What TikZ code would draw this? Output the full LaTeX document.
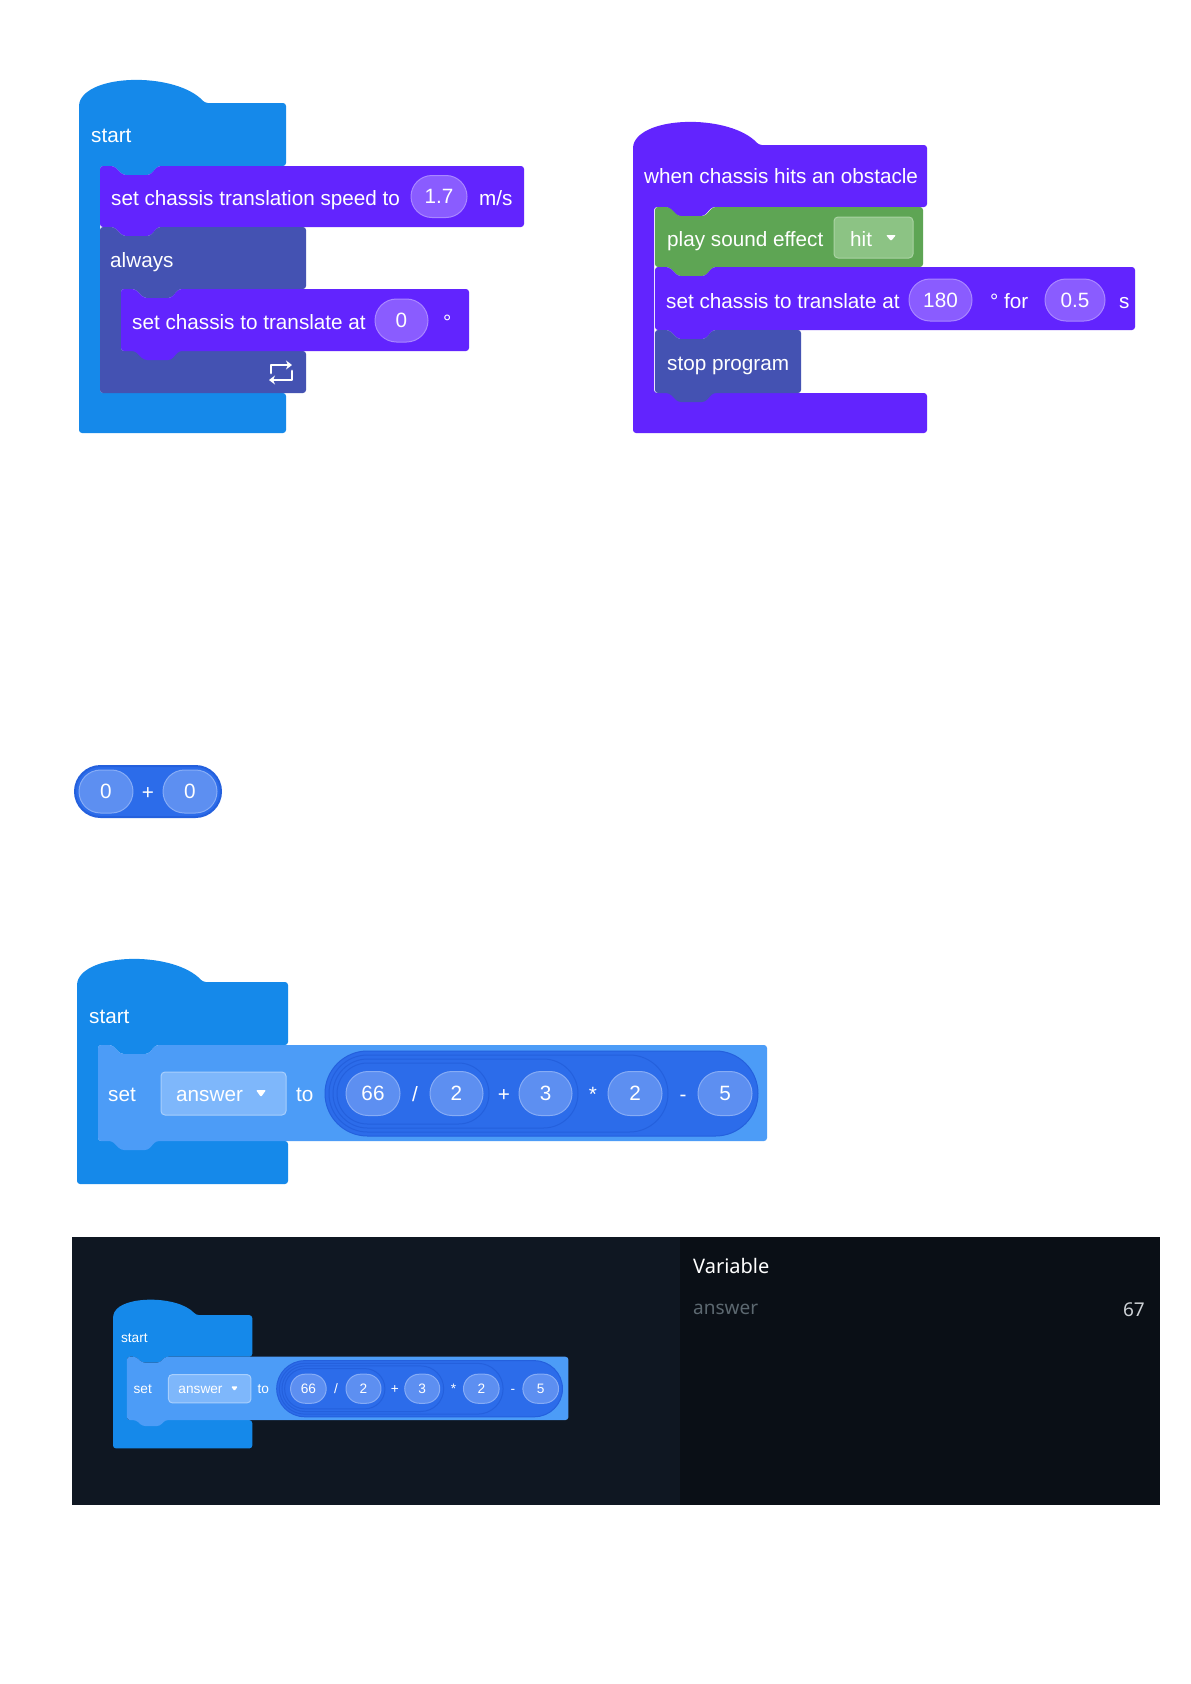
\documentclass[tikz,border=0pt]{standalone}
\usepackage{fontspec}
\setmainfont{Liberation Sans}
\newfontfamily\panelfont{Noto Sans}
\usetikzlibrary{shapes.misc,arrows.meta}
\definecolor{startblue}{HTML}{1589EA}
\definecolor{chpurple}{HTML}{6224FE}
\definecolor{ctrlslate}{HTML}{4452B2}
\definecolor{soundgreen}{HTML}{5EA554}
\definecolor{varblue}{HTML}{4C9CF7}
\definecolor{pillblue}{HTML}{2C6CEA}
\definecolor{pilledge}{HTML}{2460DD}
\definecolor{ovalpurple}{HTML}{8A5CFF}
\definecolor{ovalpurpleln}{HTML}{A987FF}
\definecolor{ovalblue}{HTML}{5D8FF1}
\definecolor{ovalblueln}{HTML}{86ACF6}
\definecolor{ddgreen}{HTML}{8CC384}
\definecolor{ddgreenln}{HTML}{AAD3A3}
\definecolor{ddblue}{HTML}{7EB7FB}
\definecolor{ddblueln}{HTML}{A8CFFD}
\definecolor{panelL}{HTML}{0F1722}
\definecolor{panelR}{HTML}{0A0F16}
\definecolor{dimgray}{HTML}{5C6870}
\definecolor{valgray}{HTML}{CDD1D5}
\newcommand{\blockfont}{\fontsize{20.7}{24}\selectfont}
% plain statement block: style, x1, y1, x2, y2
\newcommand{\stackblk}[5]{\fill[#1] (#2,#3)--(#2+14,#3)--(#2+23,#3+9)--(#2+50,#3+9)--(#2+58,#3)--(#4,#3)--(#4,#5)--(#2+58,#5)--(#2+50,#5+9)--(#2+23,#5+9)--(#2+14,#5)--(#2,#5)--cycle;}
% hat block with a mouth: style, x1, ytop, x2, mouth top, mouth bottom, ybottom
\newcommand{\hatcblk}[7]{\fill[#1] (#2,#3) .. controls (#2+14,#3-30) and (#2+98,#3-30) .. (#2+126,#3)--(#4,#3)--(#4,#5)--(#2+79,#5)--(#2+71,#5+9)--(#2+44,#5+9)--(#2+35,#5)--(#2+21,#5)--(#2+21,#6)--(#4,#6)--(#4,#7)--(#2,#7)--cycle;}
\newcommand{\notchcblk}[7]{\fill[#1] (#2,#3)--(#2+14,#3)--(#2+23,#3+9)--(#2+50,#3+9)--(#2+58,#3)--(#4,#3)--(#4,#5)--(#2+79,#5)--(#2+71,#5+9)--(#2+44,#5+9)--(#2+35,#5)--(#2+21,#5)--(#2+21,#6)--(#4,#6)--(#4,#7)--(#2,#7)--cycle;}
% set answer to ((66/2+3)*2-5), #1 prefixes the node names
\newcommand{\answerblk}[1]{%
	\hatcblk{startblue,blk}{77}{982}{288}{1045}{1141}{1184}
	\node[blocktxt] (#1start) at (89,1023) {start};
	\stackblk{varblue,blk}{98}{1045}{767}{1141}
	\node[blocktxt] (#1set) at (108,1101) {set};
	\node[ddbox,fill=ddblue,draw=ddblueln,minimum width=125,minimum height=43] (#1dd) at (223.5,1093.5) {};
	\node[blocktxt] (#1var) at (176,1101) {answer};
	\fill[white,rounded corners=1] (256,1090)--(266,1090)--(261,1097)--cycle;
	\node[blocktxt] (#1to) at (296,1101) {to};
	\node[pill,minimum width=433,minimum height=85] (#1p4) at (541.5,1093.5) {};
	\node[pill,minimum width=339,minimum height=77] (#1p3) at (498.5,1093.5) {};
	\node[pill,minimum width=245,minimum height=69] (#1p2) at (455.5,1093.5) {};
	\node[pill,minimum width=152,minimum height=61] (#1p1) at (413,1093.5) {};
	\node[ovalb,minimum width=54] (#1n1) at (373,1093.5) {66};
	\node[optxt] (#1o1) at (415,1101) {/};
	\node[ovalb,minimum width=53] (#1n2) at (456.5,1093.5) {2};
	\node[optxt] (#1o2) at (504,1101) {+};
	\node[ovalb,minimum width=53] (#1n3) at (545.5,1093.5) {3};
	\node[optxt] (#1o3) at (593,1101) {*};
	\node[ovalb,minimum width=54] (#1n4) at (635,1093.5) {2};
	\node[optxt] (#1o4) at (683,1101) {-};
	\node[ovalb,minimum width=54] (#1n5) at (725,1093.5) {5};
}
\begin{document}
\begin{tikzpicture}[x=1pt,y=-1pt,>={Stealth[length=6pt,width=9pt]},line join=round,line cap=round,
	blk/.style={rounded corners=3},
	blocktxt/.style={anchor=base west,inner sep=0,text=white,font=\blockfont},
	optxt/.style={anchor=base,inner sep=0,text=white,font=\blockfont},
	ovalp/.style={rounded rectangle,fill=ovalpurple,draw=ovalpurpleln,line width=1,inner sep=0,minimum height=42,text=white,font=\blockfont},
	ovalb/.style={rounded rectangle,fill=ovalblue,draw=ovalblueln,line width=1,inner sep=0,minimum height=44,text=white,font=\blockfont},
	pill/.style={rounded rectangle,fill=pillblue,draw=pilledge,line width=1,inner sep=0},
	ddbox/.style={rectangle,rounded corners=4,line width=1,inner sep=0}]
	\useasboundingbox (0,0) rectangle (1191,1684);
	\fill[white] (0,0) rectangle (1191,1684);
	% start / always
	\hatcblk{startblue,blk}{79}{103}{286}{166}{393}{433}
	\node[blocktxt] (start) at (91,142) {start};
	\stackblk{chpurple,blk}{100}{166}{524}{227}
	\node[blocktxt] (speed) at (111,205) {set chassis translation speed to};
	\node[ovalp,minimum width=56] (speedval) at (439,196.5) {1.7};
	\node[blocktxt] (speedunit) at (479,205) {m/s};
	\notchcblk{ctrlslate,blk}{100}{227}{306}{289}{351}{393}
	\node[blocktxt] (always) at (110,267) {always};
	\stackblk{chpurple,blk}{121}{289}{469}{351}
	\node[blocktxt] (transl) at (132,329) {set chassis to translate at};
	\node[ovalp,minimum width=53,minimum height=43] (translval) at (401.5,320.5) {0};
	\node[blocktxt] (transldeg) at (443,329) {°};
	\draw[white,line width=2.8,->] (271,373) |- (292,365);
	\draw[white,line width=2.8,->] (292,371) |- (269,380);
	% obstacle event
	\hatcblk{chpurple,blk}{633}{145}{927}{207}{393}{433}
	\node[blocktxt] (hit) at (644,183) {when chassis hits an obstacle};
	\stackblk{soundgreen,blk}{655}{207}{923}{267}
	\node[blocktxt] (sound) at (667,246) {play sound effect};
	\node[ddbox,fill=ddgreen,draw=ddgreenln,minimum width=79,minimum height=41] (sounddd) at (873.5,237.5) {};
	\node[blocktxt] (soundname) at (850,246) {hit};
	\fill[white,rounded corners=1] (886,235)--(896,235)--(891,241)--cycle;
	\stackblk{chpurple,blk}{655}{267}{1135}{330}
	\node[blocktxt] (back) at (666,308) {set chassis to translate at};
	\node[ovalp,minimum width=63] (backdeg) at (940.5,300) {180};
	\node[blocktxt] (backfor) at (990,308) {° for};
	\node[ovalp,minimum width=60] (backtime) at (1075,300) {0.5};
	\node[blocktxt] (backunit) at (1119,308) {s};
	\stackblk{ctrlslate,blk}{655}{330}{801}{393}
	\node[blocktxt] (stop) at (667,370) {stop program};
	% 0 + 0
	\node[pill,draw=pilledge,line width=2,minimum width=146,minimum height=51] (sum) at (148,791.5) {};
	\node[ovalb,minimum width=54,minimum height=43] (suma) at (106,791.5) {0};
	\node[optxt] (sumop) at (148,799) {+};
	\node[ovalb,minimum width=54,minimum height=43] (sumb) at (190,791.5) {0};
	% set answer
	\answerblk{}
	% run panel
	\fill[panelL] (72,1237) rectangle (680,1505);
	\fill[panelR] (680,1237) rectangle (1160,1505);
	\begin{scope}[shift={(62.2,667)},scale=0.66,transform shape]
		\answerblk{m}
	\end{scope}
	\node[anchor=base west,inner sep=0,text=white,font=\panelfont\fontsize{20}{24}\selectfont] (vartitle) at (693,1273) {Variable};
	\node[anchor=base west,inner sep=0,text=dimgray,font=\panelfont\fontsize{19}{23}\selectfont] (varname) at (693,1314) {answer};
	\node[anchor=base east,inner sep=0,text=valgray,font=\panelfont\fontsize{19}{23}\selectfont] (varval) at (1145,1316) {67};
\end{tikzpicture}
\end{document}
